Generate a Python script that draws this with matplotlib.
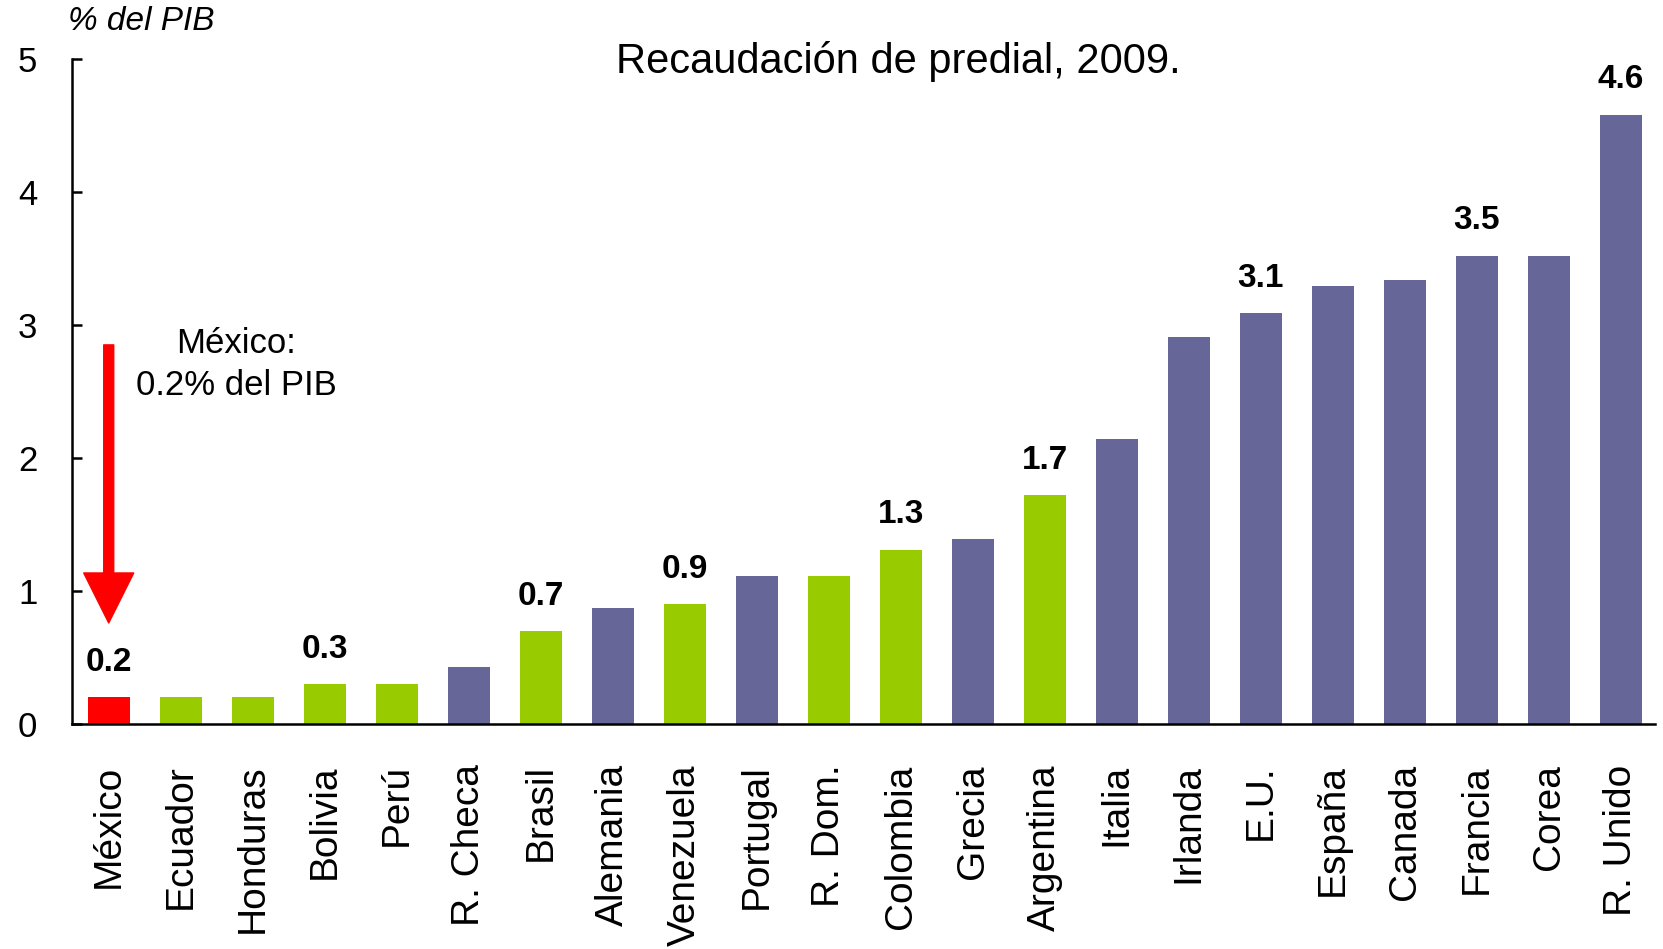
import matplotlib
matplotlib.use("Agg")
import matplotlib.pyplot as plt

plt.rcParams['font.family'] = ['Liberation Sans', 'DejaVu Sans']

# datos
paises = ["México", "Ecuador", "Honduras", "Bolivia", "Perú", "R. Checa", "Brasil",
          "Alemania", "Venezuela", "Portugal", "R. Dom.", "Colombia", "Grecia",
          "Argentina", "Italia", "Irlanda", "E.U.", "España", "Canada", "Francia",
          "Corea", "R. Unido"]
predial = [0.2, 0.2, 0.2, 0.3, 0.3, 0.43, 0.7, 0.87, 0.9, 1.11, 1.11, 1.31, 1.39,
           1.72, 2.14, 2.91, 3.09, 3.29, 3.34, 3.52, 3.52, 4.58]
grupo = ["mx", "la", "la", "la", "la", "oc", "la", "oc", "la", "oc", "la", "la", "oc",
         "la", "oc", "oc", "oc", "oc", "oc", "oc", "oc", "oc"]
etiquetas = {0: "0.2", 3: "0.3", 6: "0.7", 8: "0.9", 11: "1.3", 13: "1.7",
             16: "3.1", 19: "3.5", 21: "4.6"}

colores = {"mx": "#FF0000", "la": "#99CC00", "oc": "#666699"}

fig = plt.figure(figsize=(16.63, 9.49), dpi=100)
ax = fig.add_axes([0.0433, 0.237, 0.9517, 0.701])

x = list(range(len(paises)))
ax.bar(x, predial, width=0.58, color=[colores[g] for g in grupo])

for i, txt in etiquetas.items():
    ax.annotate(txt, (i, predial[i]), xytext=(0, 19), textcoords="offset points",
                ha="center", va="baseline", fontsize=24, fontweight="bold")

ax.set_xlim(-0.51, len(paises) - 0.53)
ax.set_ylim(0, 5)
ax.set_yticks([0, 1, 2, 3, 4, 5])
ax.set_xticks(x)
ax.set_xticklabels(paises, rotation=90, fontsize=28)
ax.tick_params(axis="x", length=0, pad=29)
ax.tick_params(axis="y", direction="in", length=7, width=1.8, labelsize=25, pad=25)

for s in ["top", "right"]:
    ax.spines[s].set_visible(False)
for s in ["left", "bottom"]:
    ax.spines[s].set_linewidth(1.8)

# flecha de México
ax.annotate("", xy=(0, 0.76), xytext=(0, 2.85),
            arrowprops=dict(arrowstyle="simple,head_length=1.0,head_width=1.0,tail_width=0.2",
                            color="#FF0000", mutation_scale=36, shrinkA=0, shrinkB=0))
ax.text(1.77, 2.7, "México:\n0.2% del PIB", ha="center", va="center",
        fontsize=25, linespacing=1.35)

fig.text(0.54, 0.935, "Recaudación de predial, 2009.", ha="center", va="center", fontsize=30)
fig.text(0.041, 0.977, "% del PIB", ha="left", va="center", fontsize=24, style="italic")

fig.savefig("out.png", dpi=100)
